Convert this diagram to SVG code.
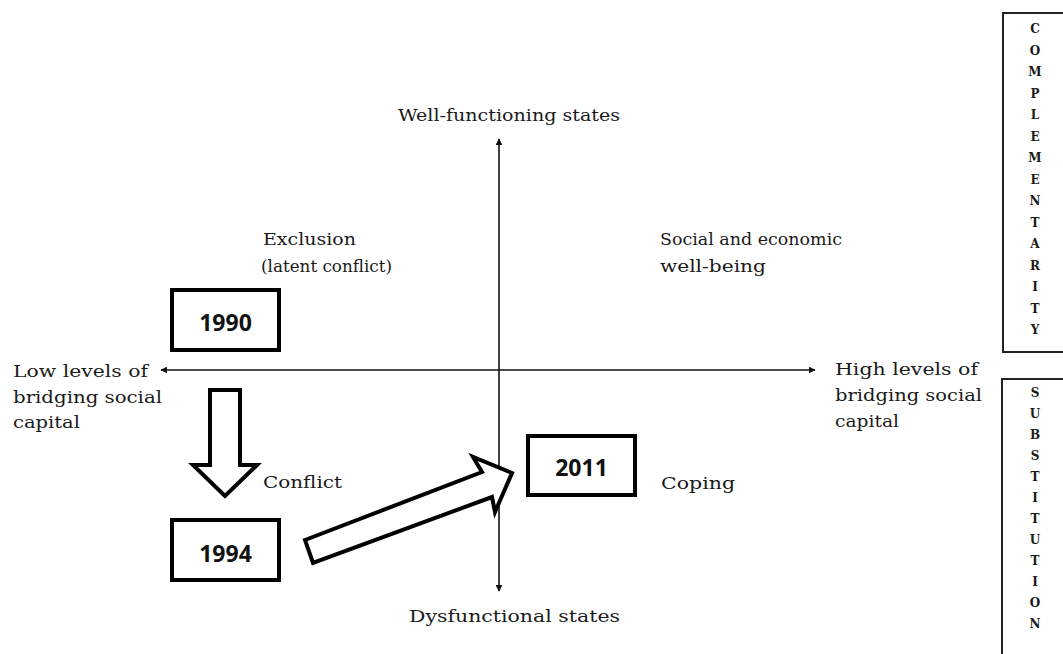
<svg xmlns="http://www.w3.org/2000/svg" width="1063" height="654" viewBox="0 0 1063 654">
  <style>
    .lbl { font-family: "DejaVu Serif", "Liberation Serif", serif; font-size: 17.5px; fill: #1a1a1a; }
    .yr { font-family: "Open Sans", "Liberation Sans", sans-serif; font-weight: bold; font-size: 23px; fill: #111; text-anchor: middle; }
    .vert { font-family: "DejaVu Serif", "Liberation Serif", serif; font-weight: bold; font-size: 12px; fill: #1a1a1a; text-anchor: middle; }
    .axis { stroke: #111; stroke-width: 1.6; fill: none; }
    .box { fill: #fff; stroke: #000; stroke-width: 4; }
    .hollow { fill: #fff; stroke: #000; stroke-width: 4; stroke-linejoin: miter; }
    .frame { fill: none; stroke: #222; stroke-width: 2; }
  </style>
  <defs>
    <marker id="tip" viewBox="0 0 10 10" refX="9" refY="5" markerWidth="7" markerHeight="7" markerUnits="userSpaceOnUse" orient="auto-start-reverse">
      <path d="M0,0 L10,5 L0,10 z" fill="#111"/>
    </marker>
  </defs>

  <rect width="1063" height="654" fill="#fff"/>

  <!-- axes and transition arrows -->
  <g id="connectors">
    <line class="axis" x1="499" y1="591" x2="499" y2="139" marker-end="url(#tip)" marker-start="url(#tip)"/>
    <line class="axis" x1="161" y1="370" x2="815" y2="370" marker-end="url(#tip)" marker-start="url(#tip)"/>
    <path class="hollow" d="M210,390 L240,390 L240,465 L257,465 L225,496 L193,465 L210,465 Z"/>
    <path class="hollow" d="M305,540 L482,472 L473,457 L512,473 L495,512 L492,497 L313,563 Z"/>
  </g>

  <!-- axis labels -->
  <g id="top-label"><text class="lbl" x="398" y="121" textLength="222" lengthAdjust="spacingAndGlyphs">Well-functioning states</text></g>
  <g id="bottom-label"><text class="lbl" x="409" y="622" textLength="211" lengthAdjust="spacingAndGlyphs">Dysfunctional states</text></g>
  <g id="left-label">
    <text class="lbl" x="13" y="377" textLength="135" lengthAdjust="spacingAndGlyphs">Low levels of</text>
    <text class="lbl" x="13" y="403" textLength="149" lengthAdjust="spacingAndGlyphs">bridging social</text>
    <text class="lbl" x="13" y="428" textLength="67" lengthAdjust="spacingAndGlyphs">capital</text>
  </g>
  <g id="right-label">
    <text class="lbl" x="835" y="375" textLength="143" lengthAdjust="spacingAndGlyphs">High levels of</text>
    <text class="lbl" x="835" y="401" textLength="147" lengthAdjust="spacingAndGlyphs">bridging social</text>
    <text class="lbl" x="835" y="427" textLength="64" lengthAdjust="spacingAndGlyphs">capital</text>
  </g>

  <!-- quadrant labels -->
  <g id="q-exclusion">
    <text class="lbl" x="263" y="245" textLength="93" lengthAdjust="spacingAndGlyphs">Exclusion</text>
    <text class="lbl" x="261" y="272" textLength="131" lengthAdjust="spacingAndGlyphs">(latent conflict)</text>
  </g>
  <g id="q-wellbeing">
    <text class="lbl" x="660" y="245" textLength="182" lengthAdjust="spacingAndGlyphs">Social and economic</text>
    <text class="lbl" x="660" y="272" textLength="106" lengthAdjust="spacingAndGlyphs">well-being</text>
  </g>
  <g id="q-conflict"><text class="lbl" x="263" y="488" textLength="79" lengthAdjust="spacingAndGlyphs">Conflict</text></g>
  <g id="q-coping"><text class="lbl" x="661" y="489" textLength="74" lengthAdjust="spacingAndGlyphs">Coping</text></g>

  <!-- year boxes -->
  <g id="y1990">
    <rect class="box" x="172" y="290" width="107" height="60"/>
    <text class="yr" x="225.5" y="331">1990</text>
  </g>
  <g id="y1994">
    <rect class="box" x="172" y="520" width="107" height="60"/>
    <text class="yr" x="225.5" y="562">1994</text>
  </g>
  <g id="y2011">
    <rect class="box" x="528" y="436" width="107" height="59"/>
    <text class="yr" x="581.5" y="476">2011</text>
  </g>

  <!-- side frames -->
  <g id="complementarity">
    <path class="frame" d="M1070,13 L1003,13 L1003,352 L1070,352"/>
    <text class="vert">
      <tspan x="1035" y="33">C</tspan><tspan x="1035" y="54.5">O</tspan><tspan x="1035" y="76">M</tspan><tspan x="1035" y="97.5">P</tspan><tspan x="1035" y="119">L</tspan><tspan x="1035" y="140.5">E</tspan><tspan x="1035" y="162">M</tspan><tspan x="1035" y="183.5">E</tspan><tspan x="1035" y="205">N</tspan><tspan x="1035" y="226.5">T</tspan><tspan x="1035" y="248">A</tspan><tspan x="1035" y="269.5">R</tspan><tspan x="1035" y="291">I</tspan><tspan x="1035" y="312.5">T</tspan><tspan x="1035" y="334">Y</tspan>
    </text>
  </g>
  <g id="substitution">
    <path class="frame" d="M1070,379 L1002,379 L1002,660"/>
    <text class="vert">
      <tspan x="1035" y="397">S</tspan><tspan x="1035" y="418">U</tspan><tspan x="1035" y="439">B</tspan><tspan x="1035" y="460">S</tspan><tspan x="1035" y="481">T</tspan><tspan x="1035" y="502">I</tspan><tspan x="1035" y="523">T</tspan><tspan x="1035" y="544">U</tspan><tspan x="1035" y="565">T</tspan><tspan x="1035" y="586">I</tspan><tspan x="1035" y="607">O</tspan><tspan x="1035" y="628">N</tspan>
    </text>
  </g>
</svg>
